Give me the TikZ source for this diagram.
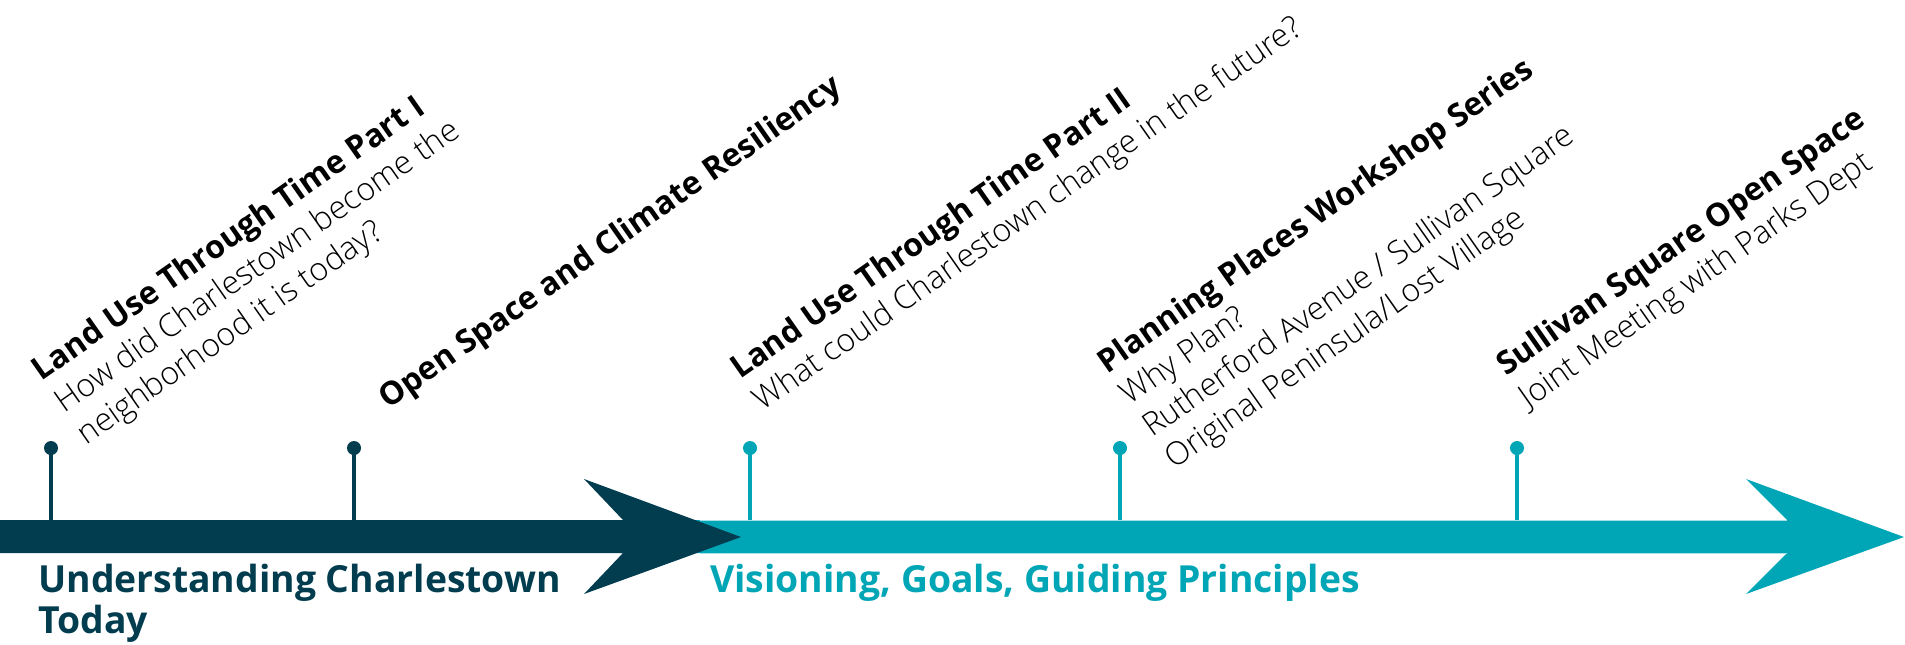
\documentclass[tikz,border=0pt]{standalone}
\usepackage{fontspec}
\setmainfont{Open Sans}
\newfontfamily\lightfont{Open Sans Light}
\definecolor{cdark}{HTML}{013C4F}
\definecolor{cteal}{HTML}{00A6B5}

\begin{document}
\begin{tikzpicture}[x=0.75pt,y=0.75pt,yscale=-1,xscale=1,
  pinhead/.style={circle,fill=#1,inner sep=0pt,minimum size=10.5pt},
  pinstem/.style={draw=#1,line width=2.8pt},
  evtext/.style={anchor=base west,inner sep=0pt,rotate=35,align=left,font=\fontsize{24}{29.25}\selectfont},
  phase/.style={anchor=base west,inner sep=0pt,align=left,text=#1,font=\bfseries\fontsize{28}{30.75}\selectfont}]
\useasboundingbox (0,0) rectangle (1905,644);

%Shape: Arrow [teal phase]
\fill [cteal] (620,520) -- (1787,520) -- (1746,479) -- (1904,537) -- (1746,594) -- (1787,553) -- (620,553) -- cycle ;
%Straight Lines [bar edges]
\draw [white!65!cteal,line width=0.5pt] (700,520) -- (1787,520) ;
\draw [white!65!cteal,line width=0.5pt] (700,553) -- (1787,553) ;
%Shape: Arrow [dark phase]
\fill [cdark] (0,520) -- (623,520) -- (584,479) -- (741,537) -- (584,594) -- (623,553) -- (0,553) -- cycle ;

%Shape: Pins
\coordinate (b1) at (51,520) ;
\coordinate (b2) at (354,520) ;
\coordinate (b3) at (750,520) ;
\coordinate (b4) at (1120,520) ;
\coordinate (b5) at (1517,520) ;
\node (p1) [pinhead=cdark] at (51,448) {} ;
\node (p2) [pinhead=cdark] at (354,448) {} ;
\node (p3) [pinhead=cteal] at (750,448) {} ;
\node (p4) [pinhead=cteal] at (1120,448) {} ;
\node (p5) [pinhead=cteal] at (1517,448) {} ;
\draw [pinstem=cdark] (p1.center) -- (b1) ;
\draw [pinstem=cdark] (p2.center) -- (b2) ;
\draw [pinstem=cteal] (p3.center) -- (b3) ;
\draw [pinstem=cteal] (p4.center) -- (b4) ;
\draw [pinstem=cteal] (p5.center) -- (b5) ;

% Text Node (anchored on the last line)
\draw (86.5,445.5) node (ev1) [evtext] {\textbf{Land Use Through Time Part I}\\{\lightfont How did Charlestown become the}\\{\lightfont neighborhood it is today?}};
% Text Node
\draw (388,410) node (ev2) [evtext] {\textbf{Open Space and Climate Resiliency}};
% Text Node
\draw (762.4,411.9) node (ev3) [evtext] {\textbf{Land Use Through Time Part II}\\{\lightfont What could Charlestown change in the future?}};
% Text Node
\draw (1174.2,470) node (ev4) [evtext] {\textbf{Planning Places Workshop Series}\\{\lightfont Why Plan?}\\{\lightfont Rutherford Avenue / Sullivan Square}\\{\lightfont Original Peninsula/Lost Village}};
% Text Node
\draw (1528.4,409) node (ev5) [evtext] {\textbf{Sullivan Square Open Space}\\{\lightfont Joint Meeting with Parks Dept}};

% Text Node
\draw (38,633) node (ph1) [phase=cdark] {Understanding Charlestown\\Today};
% Text Node
\draw (710,592) node (ph2) [phase=cteal] {Visioning, Goals, Guiding Principles};

\end{tikzpicture}
\end{document}
